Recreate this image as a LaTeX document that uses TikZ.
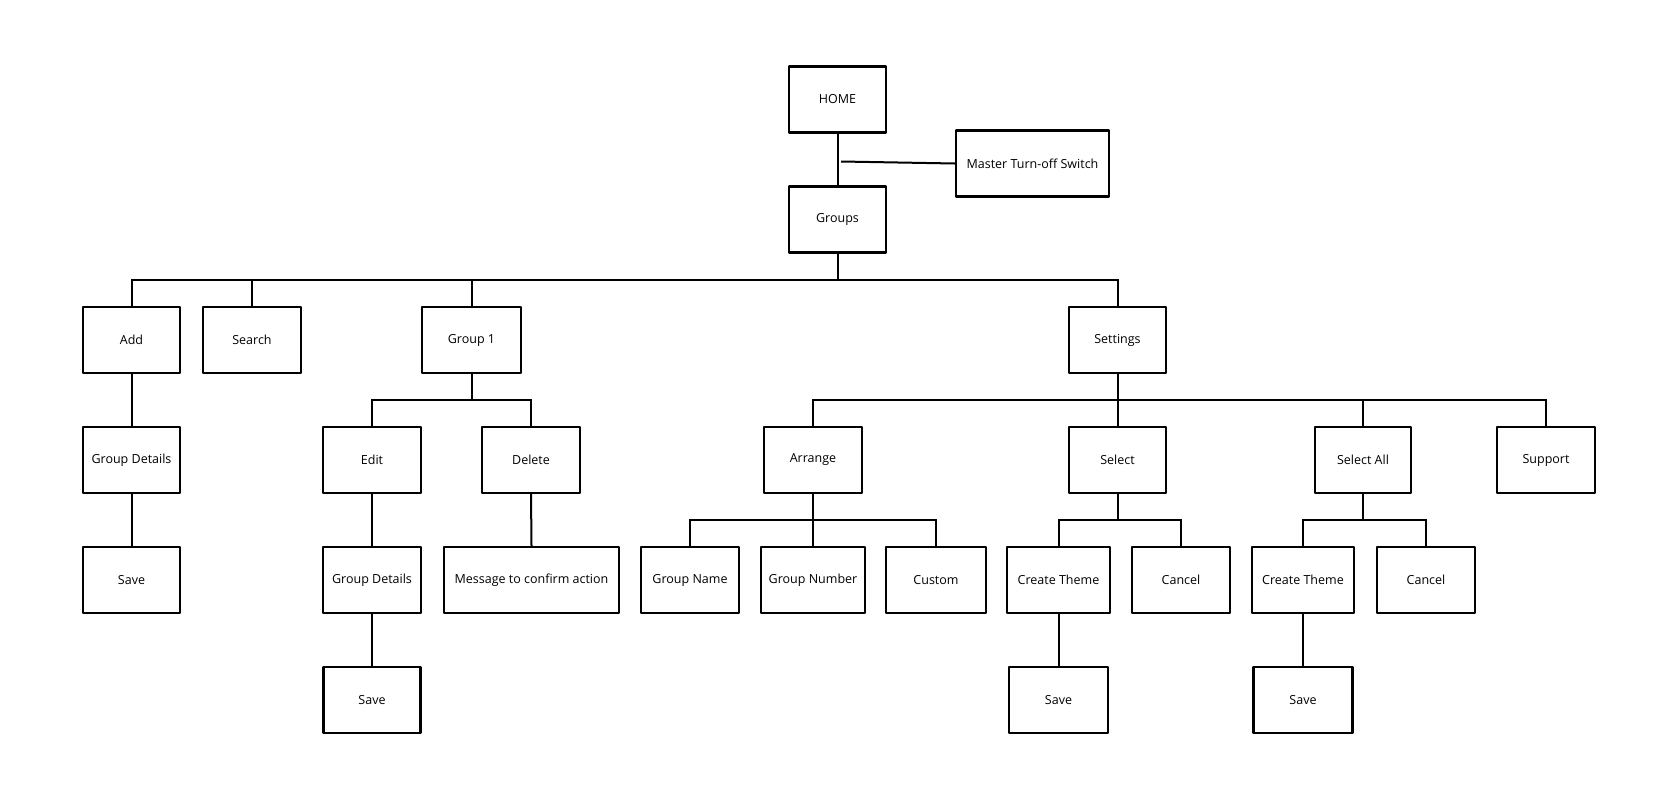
\documentclass[tikz,border=0pt]{standalone}
\usepackage{fontspec}
\setmainfont{Open Sans}
\begin{document}
\begin{tikzpicture}[x=1pt,y=-1pt,
  box/.style={draw=black, line width=2.4pt, fill=white, minimum height=66pt, minimum width=97pt, inner sep=2pt, font=\fontsize{12.5}{14}\selectfont, line join=round},
  link/.style={draw=black, line width=2pt}]
\useasboundingbox (0,0) rectangle (1680,800);
\fill[white] (0,0) rectangle (1680,800);
% nodes
\node[box] (home) at (837.5,99.5) {HOME};
\node[box, minimum width=153pt] (master) at (1032.5,163.5) {Master Turn-off Switch};
\node[box] (groups) at (837.5,219.5) {Groups};
\node[box] (add) at (131.5,340) {Add};
\node[box, minimum width=98pt] (search) at (252,340) {Search};
\node[box, minimum width=99pt] (g1) at (471.5,340) {Group 1};
\node[box] (settings) at (1117.5,340) {Settings};
\node[box] (gd1) at (131.5,460) {Group Details};
\node[box, minimum width=98pt] (edit) at (372,460) {Edit};
\node[box, minimum width=98pt] (delete) at (531,460) {Delete};
\node[box, minimum width=98pt] (arrange) at (813,460) {Arrange};
\node[box] (select) at (1117.5,460) {Select};
\node[box, minimum width=96pt] (selall) at (1363,460) {Select All};
\node[box, minimum width=98pt] (support) at (1546,460) {Support};
\node[box] (save1) at (131.5,580) {Save};
\node[box, minimum width=98pt] (gd2) at (372,580) {Group Details};
\node[box, minimum width=175pt] (msg) at (531.5,580) {Message to confirm action};
\node[box, minimum width=98pt] (gname) at (690,580) {Group Name};
\node[box, minimum width=104pt] (gnum) at (813,580) {Group Number};
\node[box, minimum width=100pt] (custom) at (936,580) {Custom};
\node[box, minimum width=103pt] (ct1) at (1058.5,580) {Create Theme};
\node[box, minimum width=98pt] (cancel1) at (1181,580) {Cancel};
\node[box, minimum width=102pt] (ct2) at (1303,580) {Create Theme};
\node[box, minimum width=98pt] (cancel2) at (1426,580) {Cancel};
\node[box] (save2) at (372,700) {Save};
\node[box, minimum width=99pt] (save3) at (1058.5,700) {Save};
\node[box, minimum width=99pt] (save4) at (1303,700) {Save};
% bus coordinates
\coordinate (busA) at (837.5,280);
\coordinate (busB) at (471.5,400);
\coordinate (busC) at (1117.5,400);
\coordinate (busD) at (813,520);
\coordinate (busE) at (1117.5,520);
\coordinate (busF) at (1363,520);
\coordinate (mt) at (841,161.5);
% connectors
\draw[link] (home.south) -- (groups.north);
\draw[link] (mt) -- (master.west);
\draw[link] (groups.south) -- (busA);
\draw[link] (add.north) |- (busA) -| (settings.north);
\draw[link] (search.north) -- (search.north |- busA);
\draw[link] (g1.north) -- (g1.north |- busA);
\draw[link] (add.south) -- (gd1.north);
\draw[link] (gd1.south) -- (save1.north);
\draw[link] (g1.south) -- (busB);
\draw[link] (edit.north) |- (busB) -| (delete.north);
\draw[link] (edit.south) -- (gd2.north);
\draw[link] (gd2.south) -- (save2.north);
\draw[link] (delete.south) -- (msg.north);
\draw[link] (settings.south) -- (busC);
\draw[link] (arrange.north) |- (busC) -| (support.north);
\draw[link] (select.north) -- (select.north |- busC);
\draw[link] (selall.north) -- (selall.north |- busC);
\draw[link] (arrange.south) -- (gnum.north);
\draw[link] (gname.north) |- (busD) -| (custom.north);
\draw[link] (select.south) -- (busE);
\draw[link] (ct1.north) |- (busE) -| (cancel1.north);
\draw[link] (ct1.south) -- (save3.north);
\draw[link] (selall.south) -- (busF);
\draw[link] (ct2.north) |- (busF) -| (cancel2.north);
\draw[link] (ct2.south) -- (save4.north);
\end{tikzpicture}
\end{document}
